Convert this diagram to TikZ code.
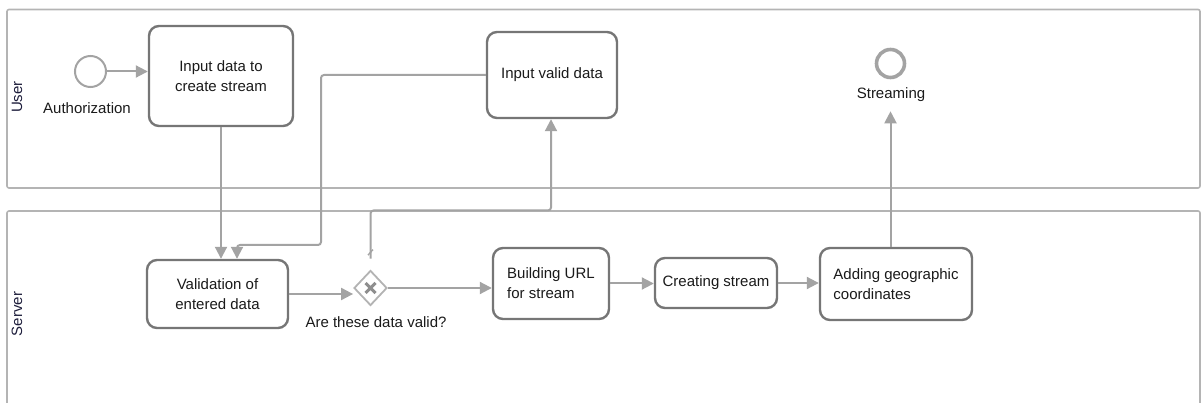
\documentclass[tikz,border=0pt]{standalone}
\usepackage{fontspec}
\setmainfont{Liberation Sans}
\usetikzlibrary{arrows.meta,shapes.geometric,calc}

\definecolor{poolline}{HTML}{B4B4B4}
\definecolor{taskline}{HTML}{767676}
\definecolor{flowline}{HTML}{A3A3A3}
\definecolor{gwline}{HTML}{B3B3B3}
\definecolor{gwmark}{HTML}{8E8E8E}
\definecolor{txt}{HTML}{1A1A1A}
\definecolor{lanetxt}{HTML}{1E1E3C}

\begin{document}
\begin{tikzpicture}[x=1pt,y=-1pt,
  every node/.style={font=\fontsize{15}{20}\selectfont,text=txt},
  pool/.style={draw=poolline,line width=1.6pt,rounded corners=2pt},
  lanelabel/.style={rotate=90,text=lanetxt,inner sep=0pt},
  task/.style={draw=taskline,line width=2.4pt,rounded corners=10pt,fill=white,
    inner sep=0pt,align=center},
  tasklft/.style={task,align=left},
  startev/.style={circle,draw=flowline,line width=2pt,minimum size=31pt,inner sep=0pt},
  endev/.style={circle,draw=flowline,line width=3.6pt,minimum size=28pt,inner sep=0pt},
  xgate/.style={diamond,draw=gwline,line width=1.8pt,fill=white,inner sep=0pt,
    minimum width=33pt,minimum height=35pt},
  caption/.style={inner sep=0pt},
  flow/.style={draw=flowline,line width=2pt,rounded corners=3pt,
    -{Triangle[length=12pt,width=12pt]}}]

\useasboundingbox (0,0) rectangle (1202,403);

% pools
\draw[pool] (7,9.5) rectangle (1200,188);
\draw[pool] (7,211) rectangle (1200,430);
\node[lanelabel] (laneU) at (17,97) {User};
\node[lanelabel] (laneS) at (17,314) {Server};

% user lane
\node[startev] (start) at (90.5,71.5) {};
\node[caption] (startlbl) at (87,108) {Authorization};
\node[task,minimum width=144pt,minimum height=100pt] (t1) at (221,76)
  {Input data to\\create stream};
\node[task,minimum width=130pt,minimum height=86pt] (valid) at (552,75)
  {Input valid data};
\node[endev] (end) at (890.5,63.5) {};
\node[caption] (endlbl) at (891,95) {Streaming};

% server lane
\node[task,minimum width=141pt,minimum height=68pt] (val) at (217.5,294)
  {Validation of\\entered data};
\node[xgate] (gw) at (370.5,288) {};
\draw[gwmark,line width=3pt] ($(gw)+(-5,-5)$) -- ($(gw)+(5,5)$)
  ($(gw)+(-5,5)$) -- ($(gw)+(5,-5)$);
\node[caption] (gwlbl) at (376,322) {Are these data valid?};
\node[tasklft,minimum width=116pt,minimum height=71pt] (url) at (551,283.5)
  {Building URL\\for stream};
\node[task,minimum width=122pt,minimum height=50pt] (create) at (716,283)
  {Creating stream};
\node[tasklft,minimum width=152pt,minimum height=72pt] (geo) at (896,284)
  {Adding geographic\\coordinates};

% sequence flows
\coordinate (bendA) at (321,245);
\coordinate (bendB) at (551,210.5);
\coordinate (valIn) at ($(val.north)+(19.5,0)$);
\coordinate (endIn) at ($(end.south)+(0,32)$);

\draw[flow] (start) -- (start -| t1.west);
\draw[flow] (t1.south) -- (t1.south |- val.north);
\draw[flow] (valid.west) -| (bendA) -| (valIn);
\draw[flow,shorten <=11pt] (gw.north) |- (bendB) -- (bendB |- valid.south);
\draw[flowline,line width=1.4pt] ($(gw.north)+(-2.5,-14.5)$) -- ($(gw.north)+(2.5,-20)$);
\draw[flow] (val.east) -- (val.east -| gw.west);
\draw[flow] (gw.east) -- (gw.east -| url.west);
\draw[flow] (url.east) -- (url.east -| create.west);
\draw[flow] (create.east) -- (create.east -| geo.west);
\draw[flow] (end.south |- geo.north) -- (endIn);

\end{tikzpicture}
\end{document}
